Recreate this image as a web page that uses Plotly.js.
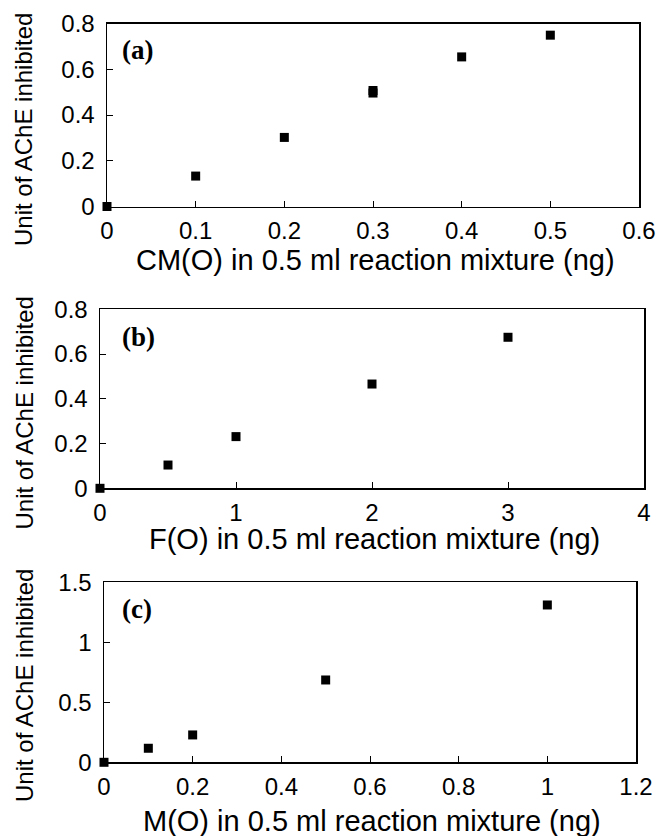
<!DOCTYPE html>
<html>
<head>
<meta charset="utf-8">
<script src="https://cdn.plot.ly/plotly-3.0.1.min.js"></script>
<style>html,body{margin:0;padding:0;background:#fff;}#chart{width:662px;height:836px;}</style>
</head>
<body>
<div id="chart"></div>
<script>
// ---- data ----
const xA = [0, 0.1, 0.2, 0.3, 0.3, 0.4, 0.5];
const yA = [0, 0.133, 0.302, 0.496, 0.507, 0.654, 0.749];
const xB = [0, 0.5, 1, 2, 3];
const yB = [0, 0.104, 0.231, 0.466, 0.675];
const xC = [0, 0.1, 0.2, 0.5, 1.0];
const yC = [0, 0.117, 0.228, 0.686, 1.311];

const panelLabels = ["(a)", "(b)", "(c)"];
const xTitles = ["CM(O) in 0.5 ml reaction mixture (ng)", "F(O) in 0.5 ml reaction mixture (ng)", "M(O) in 0.5 ml reaction mixture (ng)"];
const yTitle = "Unit of AChE inhibited";
const xRanges = [[0, 0.6], [0, 4], [0, 1.2]];
const xDticks = [0.1, 1, 0.2];
const yRanges = [[0, 0.8], [0, 0.8], [0, 1.5]];
const yDticks = [0.2, 0.2, 0.5];

// ---- layout helpers (pixel boxes of the three panels) ----
const W = 662, H = 836;
const boxes = [
  {l: 107, r: 639, t: 23.5, b: 206.5},
  {l: 100, r: 644, t: 309.3, b: 488.3},
  {l: 104, r: 636, t: 582.3, b: 762.3}
];
const px = v => v / W;
const py = v => 1 - v / H;

const marker = {symbol: 'square', size: 9, color: '#000'};
const traces = [[xA, yA], [xB, yB], [xC, yC]].map((d, i) => ({
  x: d[0], y: d[1], type: 'scatter', mode: 'markers', marker: marker,
  cliponaxis: false, showlegend: false,
  xaxis: i === 0 ? 'x' : 'x' + (i + 1), yaxis: i === 0 ? 'y' : 'y' + (i + 1)
}));

const tickFont = {family: 'Liberation Sans, Arial, sans-serif', size: 24, color: '#000'};
const layout = {
  width: W, height: H, margin: {l: 0, r: 0, t: 0, b: 0},
  paper_bgcolor: '#fff', plot_bgcolor: '#fff', showlegend: false,
  annotations: []
};
const xTitleY = [260, 539, 821];
const yTitleY = [130, 413.5, 686];
const labelPos = [[137, 50], [138, 337], [137, 609]];

boxes.forEach((b, i) => {
  const xs = i === 0 ? 'xaxis' : 'xaxis' + (i + 1);
  const ys = i === 0 ? 'yaxis' : 'yaxis' + (i + 1);
  const common = {
    showline: true, mirror: true, linecolor: '#000', linewidth: 1.5,
    ticks: 'inside', ticklen: 6, tickcolor: '#000', tickwidth: 1,
    showgrid: false, zeroline: false, tickfont: tickFont, fixedrange: true
  };
  layout[xs] = Object.assign({}, common, {
    domain: [px(b.l), px(b.r)], range: xRanges[i], dtick: xDticks[i], tick0: 0,
    anchor: i === 0 ? 'y' : 'y' + (i + 1), ticklabelstandoff: 2
  });
  layout[ys] = Object.assign({}, common, {
    domain: [py(b.b), py(b.t)], range: yRanges[i], dtick: yDticks[i], tick0: 0,
    anchor: i === 0 ? 'x' : 'x' + (i + 1), ticklabelstandoff: 6
  });
  layout.annotations.push({
    xref: 'paper', yref: 'paper', x: px((b.l + b.r) / 2 + 2), y: py(xTitleY[i]),
    xanchor: 'center', yanchor: 'middle', showarrow: false, text: xTitles[i],
    font: {family: 'Liberation Sans, Arial, sans-serif', size: 29, color: '#000'}
  });
  layout.annotations.push({
    xref: 'paper', yref: 'paper', x: px(24), y: py(yTitleY[i]),
    xanchor: 'center', yanchor: 'middle', showarrow: false, text: yTitle, textangle: -90,
    font: {family: 'Liberation Sans, Arial, sans-serif', size: 24, color: '#000'}
  });
  layout.annotations.push({
    xref: 'paper', yref: 'paper', x: px(labelPos[i][0]), y: py(labelPos[i][1]),
    xanchor: 'center', yanchor: 'middle', showarrow: false, text: '<b>' + panelLabels[i] + '</b>',
    font: {family: 'Liberation Serif, Times New Roman, serif', size: 27, color: '#000'}
  });
});

Plotly.newPlot('chart', traces, layout, {displayModeBar: false, staticPlot: true});
</script>
</body>
</html>
